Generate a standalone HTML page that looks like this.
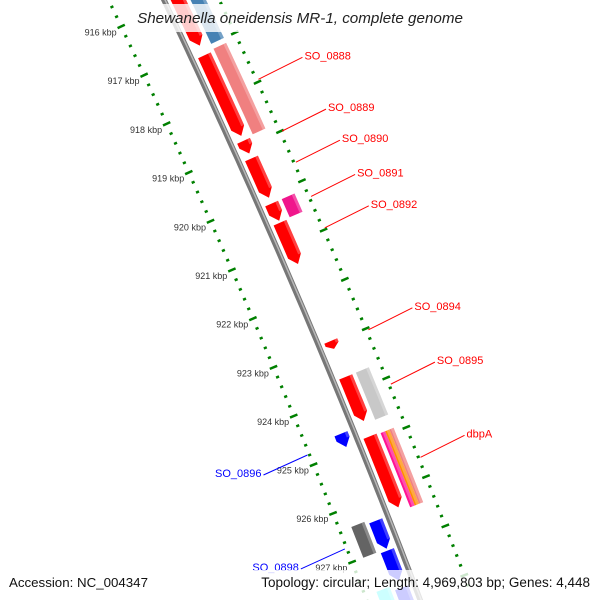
<!DOCTYPE html>
<html><head><meta charset="utf-8"><style>
html,body{margin:0;padding:0;background:#fff;width:600px;height:600px;overflow:hidden;}
svg{display:block;font-family:"Liberation Sans",sans-serif;overflow:hidden;}
</style></head><body>
<svg id="map" width="600" height="600" viewBox="0 0 600 600" xmlns="http://www.w3.org/2000/svg">
<g id="ticks"></g>
<g id="backbone"></g>
<g id="features"></g>
<g id="labels"></g>
<rect x="128" y="4" width="345" height="28" fill="#fff" opacity="0.8"/>
<text x="300" y="23" text-anchor="middle" font-size="15.2" font-style="italic" fill="#222">Shewanella oneidensis MR-1, complete genome</text>
<rect x="0" y="570" width="600" height="30" fill="#fff" opacity="0.8"/>
<text x="9" y="587" font-size="13.3" fill="#111">Accession: NC_004347</text>
<text x="590" y="587" font-size="13.5" fill="#111" text-anchor="end">Topology: circular; Length: 4,969,803 bp; Genes: 4,448</text>
</svg>
<script>
// ---- data ----
const featStart = [915.6,915.77,917.14,917.10,918.88,919.24,920.16,920.16,920.55,922.96,923.69,923.69,924.65,924.90,924.92,924.92,924.92,926.37,926.43,927.04,927.7,927.8];
const featEnd   = [916.94,917.0,918.78,918.84,919.14,920.04,920.51,920.53,921.39,923.12,924.59,924.65,924.92,926.35,926.43,926.43,926.43,927.0,927.0,927.65,928.3,928.3];
const featLane  = [1,2,1,2,1,1,1,2,1,1,1,2,-1,1,2.1,2.2,2.3,-2,-1,-1,-2,-1];
const featArrow = [1,0,1,0,1,1,1,0,1,1,1,0,1,1,0,0,0,0,1,1,0,1];
const featColor = ['#ff0000','#4682b4','#ff0000','#f08080','#ff0000','#ff0000','#ff0000','#f0168c','#ff0000','#ff0000','#ff0000','#c8c8c8','#0000ff','#ff0000','#ff1493','#ff8c00','#f08080','#646464','#0000ff','#0000ff','#00ffff','#0000ff'];
const labelText = ['SO_0888','SO_0889','SO_0890','SO_0891','SO_0892','SO_0894','SO_0895','dbpA','SO_0896','SO_0898'];
const labelFeat = [2,4,5,6,8,9,10,13,12,18];
const tickMajor = [916,917,918,919,920,921,922,923,924,925,926,927];
const tickLabels = ['916 kbp','917 kbp','918 kbp','919 kbp','920 kbp','921 kbp','922 kbp','923 kbp','924 kbp','925 kbp','926 kbp','927 kbp'];

// ---- geometry ----
const NS='http://www.w3.org/2000/svg';
const U=k=>5+(k-916)*49;
const X=u=>164+0.475*u-0.00008*u*u;
const dX=u=>0.475-0.00016*u;
function P(u,d){const s=dX(u),n=Math.sqrt(1+s*s);return [X(u)+d/n,u-d*s/n];}
function mk(tag,attrs,parent){const e=document.createElementNS(NS,tag);for(const k in attrs)e.setAttribute(k,attrs[k]);parent.appendChild(e);return e;}
const laneRange=l=>{
  if(l===1)return[6,20];if(l===-1)return[-20,-6];if(l===-2)return[-38,-24];
  if(l===2)return[24,38];if(l===2.1)return[24,29];if(l===2.2)return[29,33.5];if(l===2.3)return[33.5,38];
};
const pts=a=>a.map(p=>p[0].toFixed(1)+','+p[1].toFixed(1)).join(' ');

// backbone
const bb=document.getElementById('backbone');
let bp=[];for(let u=-20;u<=620;u+=10)bp.push(P(u,0));
let e=mk('polyline',{points:pts(bp),fill:'none',stroke:'#777','stroke-width':5.5},bb);


e=mk('polyline',{points:pts(bp.map((p,i)=>P(-20+i*10,1))),fill:'none',stroke:'#b8b8b8','stroke-width':1.5},bb);



// tick rings
const tg=document.getElementById('ticks');
for(const side of [-50,50]){
  for(let k=915.2;k<=928.4;k+=0.2){
    const u=U(k);const major=Math.abs(k-Math.round(k))<0.01;
    const len=major?4:1.6;
    const a=P(u,side-len),b=P(u,side+len);
    const t=mk('line',{x1:a[0],y1:a[1],x2:b[0],y2:b[1],stroke:'#008000','stroke-width':2.5},tg);
    
    
  }
}
tickMajor.forEach((k,i)=>{
  const p=P(U(k),-55);
  const t=mk('text',{x:p[0],y:p[1]+7,'text-anchor':'end','font-size':9,fill:'#333'},tg);
  t.textContent=tickLabels[i];
  
  
});

// features
const fg=document.getElementById('features');
featStart.forEach((ks,i)=>{
  const u1=U(ks),u2=U(featEnd[i]);const [d1,d2]=laneRange(featLane[i]);
  const h=featArrow[i]?Math.min(8,(u2-u1)*0.6):0;
  const L=[],R=[];
  const steps=Math.max(2,Math.ceil((u2-h-u1)/10));
  for(let j=0;j<=steps;j++){const u=u1+(u2-h-u1)*j/steps;L.push(P(u,d1));R.push(P(u,d2));}
  let poly=L.slice();
  if(featArrow[i])poly.push(P(u2,(d1+d2)/2));
  poly=poly.concat(R.reverse());
  const g=mk('g',{},fg);
  
  
  mk('polygon',{points:pts(poly),fill:featColor[i]},g);
  const S=[];for(let j=0;j<=steps;j++){const u=u1+(u2-h-u1)*j/steps;S.push(P(u,d2-3));}
  const S2=[];for(let j=steps;j>=0;j--){const u=u1+(u2-h-u1)*j/steps;S2.push(P(u,d2));}
  const st=mk('polygon',{points:pts(S.concat(S2)),fill:'#fff',opacity:0.25},g);
  
  
});

// labels
const lg=document.getElementById('labels');
labelText.forEach((txt,i)=>{
  const f=labelFeat[i];const u=(U(featStart[f])+U(featEnd[f]))/2;
  const left=featLane[f]<0;const col=left?'#0000ff':'#ff0000';
  const a=P(u,left?-52:52);const b=[a[0]+(left?-44:44),a[1]+(left?20:-22)];
  const l=mk('line',{x1:a[0],y1:a[1],x2:b[0],y2:b[1],stroke:col,'stroke-width':1},lg);
  
  
  const t=mk('text',{x:b[0]+(left?-2:2),y:b[1]+2,'font-size':11,fill:col,'text-anchor':left?'end':'start'},lg);
  t.textContent=txt;
  
  
});
</script>
</body></html>
